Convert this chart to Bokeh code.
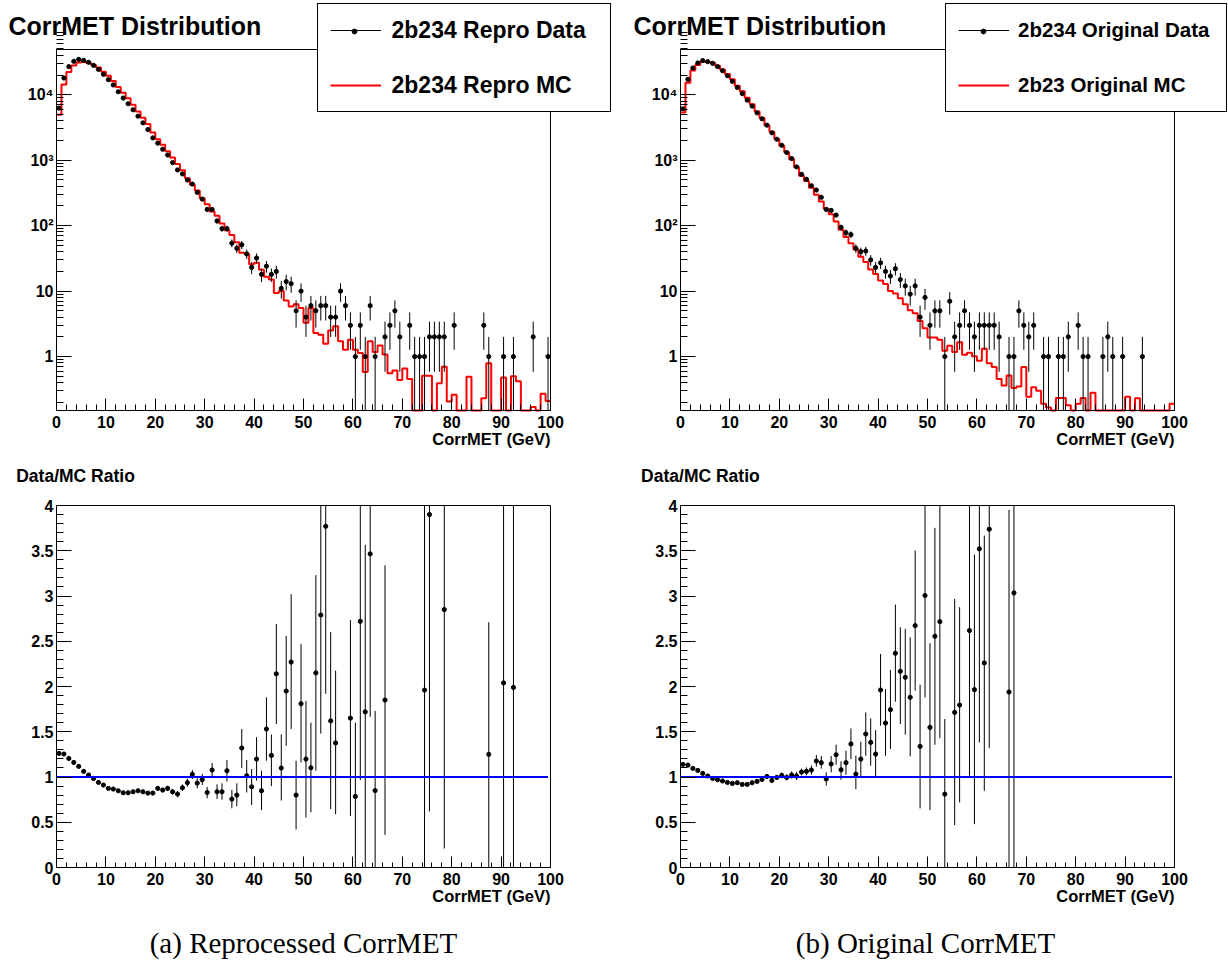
import math
import numpy as np
from bokeh.plotting import figure
from bokeh.layouts import column, row
from bokeh.models import (Range1d, FixedTicker, Label, Legend, LegendItem, LinearAxis,
                          LogAxis, BoxAnnotation, CustomJSTickFormatter)
from bokeh.embed import file_html
from bokeh.resources import INLINE

# ---------------- data ----------------
# 100 bins of 1 GeV, bin i covers [i, i+1) GeV
x_edges = list(range(101))

repro_data = [6250, 18000, 26900, 32400, 34700, 33500, 31300, 28100, 24400, 20500,
              17000, 14100, 11100, 8900, 7280, 5890, 4710, 3720, 2940, 2190,
              1820, 1470, 1200, 918, 709, 616, 498, 432, 322, 255,
              177, 177, 118, 90, 90, 54, 45, 51, 37, 23,
              32, 18, 24, 18, 20, 11, 14, 13, 5, 10,
              4, 6, 5, 6, 6, 4, 4, 10, 6, 3,
              1, 3, 1, 6, 1, 0, 2, 3, 5, 2,
              0, 3, 1, 1, 1, 2, 2, 2, 2, 0,
              3, 0, 0, 0, 0, 0, 3, 1, 0, 0,
              1, 0, 1, 0, 0, 0, 2, 0, 0, 1]

repro_mc = [4960, 14350, 22320, 27900, 31070, 31540, 30630, 28560, 25960, 22500,
            19450, 16260, 13090, 10770, 8810, 7040, 5550, 4440, 3580, 2660,
            2080, 1720, 1370, 1100, 874, 699, 531, 420, 345, 263,
            213, 164, 142, 108, 84.7, 72.1, 55.9, 38.5, 37.0, 25.7,
            27.1, 21.2, 16.5, 15.0, 9.35, 10.0, 7.2, 5.8, 6.3, 5.5,
            3.3, 5.5, 2.3, 2.15, 1.57, 2.5, 2.9, 1.72, 1.27, 1.8,
            1.27, 1.13, 0.58, 1.72, 1.17, 1.47, 1.08, 0.555, 0.61, 0.44,
            0.66, 0.455, 0, 0, 0.51, 0.51, 0, 0.39, 0.70, 0.206,
            0.26, 0, 0, 0.49, 0, 0, 0.23, 0.79, 0, 0,
            0.48, 0, 0.5, 0.42, 0, 0, 0.17, 0, 0.27, 0.21]

orig_data = [6100, 17200, 25600, 30600, 33200, 32000, 30200, 26900, 23300, 19500,
             16000, 12900, 10400, 8280, 6700, 5290, 4290, 3430, 2620, 2090,
             1690, 1310, 1060, 789, 609, 511, 407, 350, 271, 177,
             171, 145, 94, 78, 73, 45, 40, 41, 30, 23,
             27, 20, 17, 22, 15, 12, 9, 12, 4, 8,
             3, 5, 5, 1, 7, 2, 3, 5, 3, 2,
             3, 3, 3, 3, 2, 0, 1, 1, 5, 3,
             2, 3, 0, 1, 1, 0, 1, 1, 2, 0,
             3, 1, 1, 0, 0, 1, 2, 1, 0, 1,
             0, 0, 0, 1, 0, 0, 0, 0, 0, 0]

orig_mc = [5360, 15200, 23400, 28500, 31900, 31650, 30700, 27730, 24370, 20740,
           17220, 13770, 11330, 9020, 7150, 5560, 4410, 3410, 2720, 2100,
           1660, 1317, 1037, 780, 577, 481, 378, 297, 234, 181,
           149, 116, 86.8, 67.0, 53.7, 43.3, 33.6, 27.9, 21.4, 18.3,
           14.5, 12.8, 10.0, 9.2, 7.8, 6.3, 5.1, 4.6, 3.5, 2.7,
           1.96, 1.95, 1.80, 1.23, 1.46, 1.17, 1.65, 1.07, 1.14, 1.01,
           0.86, 1.32, 0.79, 0.69, 0.455, 0.36, 0.516, 0.33, 0.35, 0.69,
           0.244, 0.34, 0.30, 0.19, 0.167, 0, 0.233, 0.233, 0.18, 0,
           0.19, 0.233, 0, 0.28, 0, 0, 0, 0, 0, 0,
           0.244, 0, 0.23, 0, 0, 0, 0, 0, 0, 0.19]

repro_ratio_bins = list(range(57)) + [59, 60, 61, 62, 63, 64, 66, 74, 75, 78, 87, 90, 92]
repro_ratio = [1.261, 1.254, 1.205, 1.161, 1.117, 1.062, 1.022, 0.984, 0.940, 0.911,
               0.874, 0.867, 0.848, 0.826, 0.826, 0.837, 0.848, 0.837, 0.822, 0.822,
               0.874, 0.856, 0.874, 0.837, 0.811, 0.881, 0.937, 1.029, 0.933, 0.970,
               0.829, 1.077, 0.837, 0.837, 1.069, 0.756, 0.800, 1.320, 1.014, 0.892,
               1.198, 0.848, 1.530, 1.238, 2.140, 1.099, 1.950, 2.270, 0.800, 1.810,
               1.198, 1.102, 2.150, 2.790, 3.770, 1.620, 1.376,
               1.650, 0.785, 2.720, 1.720, 3.465, 0.850, 1.850, 1.960, 3.900, 2.850,
               1.250, 2.040, 1.990]
repro_ratio_lo = [1.255, 1.248, 1.199, 1.155, 1.111, 1.056, 1.016, 0.978, 0.934, 0.905,
                  0.867, 0.860, 0.840, 0.817, 0.816, 0.826, 0.836, 0.823, 0.806, 0.804,
                  0.852, 0.831, 0.846, 0.806, 0.776, 0.844, 0.893, 0.977, 0.877, 0.911,
                  0.766, 1.003, 0.757, 0.749, 0.950, 0.654, 0.677, 1.100, 0.829, 0.690,
                  0.960, 0.635, 1.180, 0.900, 1.585, 0.740, 1.345, 1.530, 0.420, 1.160,
                  0.550, 0.610, 1.070, 1.480, 1.920, 0.645, 0.590,
                  0.570, 0.000, 0.966, 0.000, 1.666, 0.000, 0.360, 0.000, 0.620, 0.210,
                  0.000, 0.000, 0.000]
repro_ratio_hi = [1.267, 1.260, 1.211, 1.167, 1.123, 1.068, 1.028, 0.990, 0.946, 0.917,
                  0.881, 0.874, 0.856, 0.835, 0.836, 0.848, 0.860, 0.851, 0.838, 0.840,
                  0.896, 0.881, 0.902, 0.868, 0.846, 0.918, 0.981, 1.077, 0.985, 1.033,
                  0.891, 1.155, 0.919, 0.930, 1.187, 0.858, 0.930, 1.530, 1.188, 1.088,
                  1.440, 1.069, 1.880, 1.470, 2.690, 1.470, 2.560, 3.020, 1.180, 2.470,
                  1.840, 1.600, 3.230, 4.100, 5.600, 2.600, 2.175,
                  2.735, 1.600, 4.470, 3.565, 5.260, 1.730, 3.340, 4.400, 7.180, 5.490,
                  2.710, 4.500, 4.400]

orig_ratio_bins = list(range(54)) + [55, 56, 58, 59, 60, 61, 62, 66, 67]
orig_ratio = [1.139, 1.132, 1.095, 1.073, 1.040, 1.011, 0.984, 0.970, 0.956, 0.940,
              0.929, 0.937, 0.918, 0.918, 0.937, 0.951, 0.973, 1.006, 0.962, 0.995,
              1.017, 0.995, 1.022, 1.011, 1.055, 1.062, 1.077, 1.177, 1.158, 0.978,
              1.144, 1.246, 1.080, 1.158, 1.365, 1.032, 1.198, 1.475, 1.382, 1.253,
              1.961, 1.596, 1.744, 2.367, 2.168, 2.101, 1.880, 2.673, 1.338, 3.005,
              1.548, 2.555, 2.717, 0.811,
              1.714, 1.795, 2.618, 1.965, 3.521, 2.260, 3.738, 1.939, 3.034]
orig_ratio_lo = [1.133, 1.126, 1.089, 1.067, 1.034, 1.005, 0.978, 0.964, 0.949, 0.933,
                 0.921, 0.928, 0.908, 0.907, 0.924, 0.936, 0.955, 0.985, 0.938, 0.968,
                 0.986, 0.961, 0.983, 0.966, 1.018, 1.018, 1.025, 1.114, 1.092, 0.904,
                 1.051, 1.136, 0.970, 1.025, 1.198, 0.866, 0.995, 1.235, 1.124, 0.995,
                 1.567, 1.235, 1.309, 1.832, 1.585, 1.467, 1.228, 1.954, 0.653, 1.880,
                 0.634, 1.357, 1.430, 0.000,
                 0.468, 0.719, 1.014, 0.479, 1.382, 0.848, 1.320, 0.000, 0.000]
orig_ratio_hi = [1.145, 1.138, 1.101, 1.079, 1.046, 1.017, 0.990, 0.976, 0.963, 0.947,
                 0.937, 0.946, 0.928, 0.929, 0.950, 0.966, 0.991, 1.027, 0.986, 1.022,
                 1.048, 1.029, 1.061, 1.056, 1.092, 1.106, 1.128, 1.243, 1.232, 1.051,
                 1.232, 1.357, 1.173, 1.291, 1.537, 1.235, 1.390, 1.714, 1.648, 1.519,
                 2.359, 1.972, 2.183, 2.905, 2.654, 2.636, 2.544, 3.502, 2.020, 4.200,
                 2.477, 3.753, 4.100, 1.641,
                 2.968, 2.876, 4.400, 3.458, 5.700, 3.668, 6.100, 3.952, 6.200]

x_major_ticks = [0, 10, 20, 30, 40, 50, 60, 70, 80, 90, 100]
log_major_ticks = [1, 10, 100, 1000, 10000]
ratio_major_ticks = [0, 0.5, 1, 1.5, 2, 2.5, 3, 3.5, 4]
ratio_reference = 1.0

repro_labels = ["2b234 Repro Data", "2b234 Repro MC"]
orig_labels = ["2b234 Original Data", "2b23 Original MC"]
top_title = "CorrMET Distribution"
ratio_title = "Data/MC Ratio"
x_title = "CorrMET (GeV)"
captions = ["(a) Reprocessed CorrMET", "(b) Original CorrMET"]

# ---------------- styling / layout ----------------
SANS = "Liberation Sans"
SERIF = "Liberation Serif"
X_LO, X_HI = 0.0, 100.0
Y_LO, Y_HI = 0.150, 49100.0
R_LO, R_HI = 0.0, 4.0
PLOT_W = 494
TOP_PH, BOT_PH = 361, 362
MARKER = 4.2

# legend box geometry (pixels)
LEG_TOP = 5
LEG_PAD = 12
LEG_ROW = 28
LEG_SPACING = 27
LEG_GLYPH_W = 51
LEG_DOT_BOX = 12

x_minor_ticks = [v for v in range(0, 101, 2) if v % 10 != 0]
log_minor_ticks = [m * 10.0 ** d for d in range(-1, 5) for m in range(2, 10)]
ratio_minor_ticks = [round(0.1 * k, 1) for k in range(41) if k % 5 != 0]

log_fmt = CustomJSTickFormatter(code="""
const e = Math.round(Math.log10(tick));
if (e <= 0) { return "1"; }
if (e == 1) { return "10"; }
const sup = {2: "\\u00b2", 3: "\\u00b3", 4: "\\u2074", 5: "\\u2075"};
return "10" + sup[e];
""")
ratio_fmt = CustomJSTickFormatter(code="""
return Number.isInteger(tick) ? tick.toFixed(0) : tick.toFixed(1);
""")


class Geom:
    """Maps page pixels to data coordinates for one canvas whose frame is the whole canvas."""

    def __init__(self, cl, ct, cw, ch, pl, pt, pw, ph, ylo, yhi, is_log):
        self.cl, self.ct, self.cw, self.ch = cl, ct, cw, ch
        self.pl, self.pt, self.pw, self.ph = pl, pt, pw, ph
        self.ylo, self.yhi, self.is_log = ylo, yhi, is_log

    def x(self, px):
        return X_LO + (px - self.pl) / self.pw * (X_HI - X_LO)

    def y(self, py):
        f = (self.pt + self.ph - py) / self.ph
        if self.is_log:
            a, b = math.log10(self.ylo), math.log10(self.yhi)
            return 10 ** (a + f * (b - a))
        return self.ylo + f * (self.yhi - self.ylo)

    def ranges(self):
        return (Range1d(self.x(self.cl), self.x(self.cl + self.cw)),
                Range1d(self.y(self.ct + self.ch), self.y(self.ct)))


def base_fig(g):
    xr, yr = g.ranges()
    p = figure(width=g.cw, height=g.ch, title=None, x_range=xr, y_range=yr,
               y_axis_type="log" if g.is_log else "linear",
               x_axis_location=None, y_axis_location=None,
               output_backend="svg", toolbar_location=None,
               min_border=0, min_border_left=0, min_border_right=0,
               min_border_top=0, min_border_bottom=0)
    p.outline_line_color = None
    p.background_fill_color = "white"
    p.border_fill_color = "white"
    return p


def style_axis(ax, mj, mn, standoff):
    ax.major_tick_in = mj
    ax.major_tick_out = 0
    ax.minor_tick_in = mn
    ax.minor_tick_out = 0
    ax.major_tick_line_color = "black"
    ax.minor_tick_line_color = "black"
    ax.axis_line_color = "black"
    ax.major_label_text_font = SANS
    ax.major_label_text_font_style = "bold"
    ax.major_label_text_font_size = "16px"
    ax.major_label_text_color = "black"
    ax.major_label_standoff = standoff
    ax.axis_label = None


def add_axes(p, g, ymaj, ymin, yfmt, xlen, ylen):
    xa = LinearAxis(fixed_location=g.ylo, bounds=(X_LO, X_HI),
                    ticker=FixedTicker(ticks=x_major_ticks, minor_ticks=x_minor_ticks))
    style_axis(xa, xlen[0], xlen[1], 5)
    p.add_layout(xa, "below")
    ycls = LogAxis if g.is_log else LinearAxis
    ya = ycls(fixed_location=X_LO, bounds=(g.ylo, g.yhi),
              ticker=FixedTicker(ticks=ymaj, minor_ticks=ymin), formatter=yfmt)
    style_axis(ya, ylen[0], ylen[1], 3)
    p.add_layout(ya, "left")
    p.add_layout(BoxAnnotation(left=X_LO, right=X_HI, bottom=g.ylo, top=g.yhi,
                               fill_alpha=0, fill_color=None, line_color="black",
                               line_width=1, line_alpha=1))


def add_label(p, g, px, py, text, size, align="left", font=SANS, style="bold"):
    p.add_layout(Label(x=g.x(px), y=g.y(py), text=text, text_font=font,
                       text_font_size=size, text_font_style=style, text_align=align,
                       text_baseline="middle", text_color="black"))


def make_top(data, mc, labels, g, legend_left, legend_font, legend_lw, legend_standoff,
             title_px):
    p = base_fig(g)
    add_axes(p, g, log_major_ticks, log_minor_ticks, log_fmt, (12, 6), (15, 7))

    mc_arr = np.maximum(np.array(mc, dtype=float), g.ylo)
    step_y = list(mc_arr) + [mc_arr[-1]]
    step_r = p.step(x=x_edges, y=step_y, mode="after", line_color="#ff0000", line_width=2)

    d = np.array(data, dtype=float)
    keep = d > 0
    xc = np.arange(len(d))[keep] + 0.5
    dv = d[keep]
    err = np.sqrt(dv)
    lo = np.maximum(dv - err, g.ylo)
    hi = np.minimum(dv + err, g.yhi)
    seg_r = p.segment(x0=xc, y0=lo, x1=xc, y1=hi, line_color="black", line_width=1)
    dot_r = p.scatter(x=xc, y=dv, size=MARKER, marker="circle", color="black")

    legend_h = 2 * LEG_PAD + 2 * LEG_ROW + LEG_SPACING
    legend = Legend(items=[LegendItem(label=labels[0], renderers=[seg_r]),
                           LegendItem(label=labels[1], renderers=[step_r])],
                    location=(legend_left - g.cl, g.ch - (LEG_TOP + legend_h - g.ct)),
                    orientation="vertical", padding=LEG_PAD,
                    spacing=LEG_SPACING, margin=0, glyph_width=LEG_GLYPH_W,
                    glyph_height=LEG_ROW, label_height=LEG_ROW, label_width=legend_lw,
                    label_standoff=legend_standoff,
                    label_text_font=SANS, label_text_font_style="bold",
                    label_text_font_size=legend_font, label_text_color="black",
                    border_line_color="black", border_line_width=1, border_line_alpha=1,
                    background_fill_color="white", background_fill_alpha=1)
    p.add_layout(legend)

    # a second, frameless legend that only puts the small data marker onto the first
    mx = legend_left + LEG_PAD + LEG_GLYPH_W / 2
    my = LEG_TOP + LEG_PAD + LEG_ROW / 2
    dot_legend = Legend(items=[LegendItem(label=" ", renderers=[dot_r])],
                        location=(mx - LEG_DOT_BOX / 2 - g.cl,
                                  g.ch - (my + LEG_DOT_BOX / 2 - g.ct)),
                        orientation="vertical", padding=0, spacing=0, margin=0,
                        glyph_width=LEG_DOT_BOX, glyph_height=LEG_DOT_BOX,
                        label_height=LEG_DOT_BOX, label_width=0, label_standoff=0,
                        label_text_font_size="1px",
                        border_line_alpha=0, background_fill_alpha=0)
    p.add_layout(dot_legend)

    add_label(p, g, title_px, 25, top_title, "25px")
    add_label(p, g, g.pl + g.pw, g.pt + g.ph + 28, x_title, "16.5px", align="right")
    return p


def make_ratio(bins, vals, lo, hi, g, title_px, caption, caption_cx):
    p = base_fig(g)
    add_axes(p, g, ratio_major_ticks, ratio_minor_ticks, ratio_fmt, (11, 5), (15, 7))

    xc = [b + 0.5 for b in bins]
    lo_c = np.clip(np.array(lo, dtype=float), g.ylo, g.yhi)
    hi_c = np.clip(np.array(hi, dtype=float), g.ylo, g.yhi)
    p.segment(x0=xc, y0=lo_c, x1=xc, y1=hi_c, line_color="black", line_width=1)
    p.scatter(x=xc, y=vals, size=MARKER, marker="circle", color="black")
    p.segment(x0=[x_edges[0]], y0=[ratio_reference], x1=[x_edges[-1] - 0.5],
              y1=[ratio_reference], line_color="#0000ff", line_width=2)

    add_label(p, g, title_px, 475, ratio_title, "17.5px")
    add_label(p, g, g.pl + g.pw, g.pt + g.ph + 28, x_title, "16.5px", align="right")
    add_label(p, g, caption_cx, 942, caption, "29px", align="center", font=SERIF,
              style="normal")
    return p


# canvas geometry (page pixels): left, top, width, height, then plot box left, top, w, h
g1 = Geom(0, 0, 614, 460, 56, 49, PLOT_W, TOP_PH, Y_LO, Y_HI, True)
g2 = Geom(614, 0, 613, 460, 680, 49, PLOT_W, TOP_PH, Y_LO, Y_HI, True)
g3 = Geom(0, 460, 614, 503, 56, 505, PLOT_W, BOT_PH, R_LO, R_HI, False)
g4 = Geom(614, 460, 613, 503, 680, 505, PLOT_W, BOT_PH, R_LO, R_HI, False)

p1 = make_top(repro_data, repro_mc, repro_labels, g1, 316.5, "23px", 206, 11, 8)
p2 = make_top(orig_data, orig_mc, orig_labels, g2, 945, "20.5px", 196, 9, 633)
p3 = make_ratio(repro_ratio_bins, repro_ratio, repro_ratio_lo, repro_ratio_hi, g3,
                15.7, captions[0], 303)
p4 = make_ratio(orig_ratio_bins, orig_ratio, orig_ratio_lo, orig_ratio_hi, g4,
                640.6, captions[1], 925)

for p in (p1, p2, p3, p4):
    for gr in p.grid:
        gr.visible = False

layout = column(row(p1, p2), row(p3, p4))
open("out.html", "w").write(file_html(layout, INLINE))
